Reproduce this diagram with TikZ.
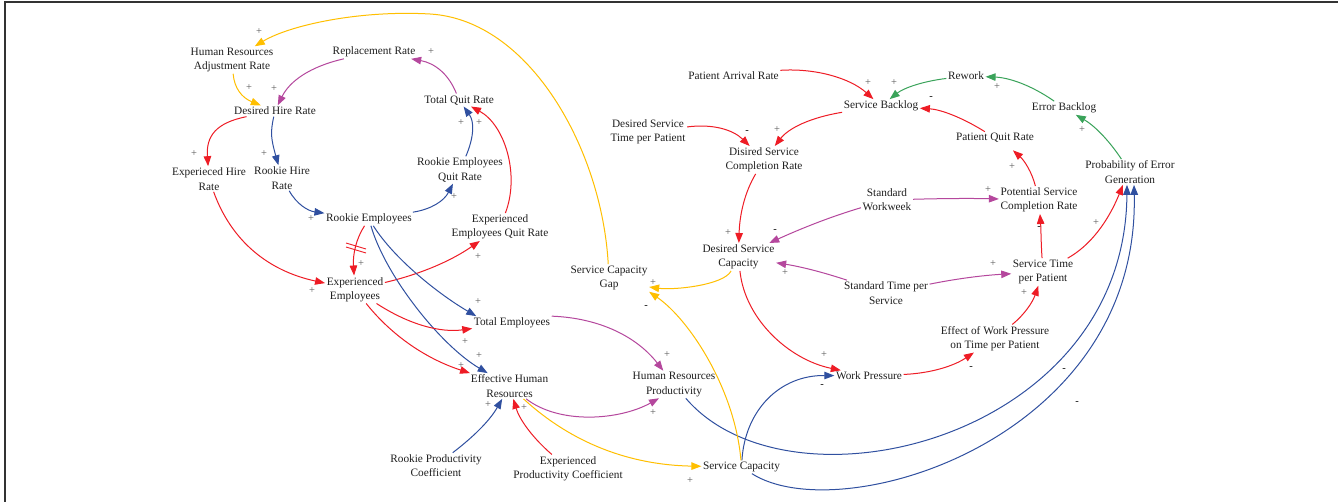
\documentclass[tikz,border=0pt]{standalone}
\usepackage{fontspec}
\setmainfont{Liberation Serif}
\usetikzlibrary{arrows.meta}
\definecolor{cred}{HTML}{EE1C25}
\definecolor{cblue}{HTML}{3050A0}
\definecolor{cmag}{HTML}{B5479D}
\definecolor{cyel}{HTML}{FFBF00}
\definecolor{cgrn}{HTML}{3AA35A}
\begin{document}
\begin{tikzpicture}[x=1pt,y=-1pt,
  v/.style={font=\fontsize{11.3}{14.3}\selectfont, align=center, inner sep=1.5pt, text=black!88},
  lk/.style={-{Triangle[length=10pt,width=7.5pt]}, line width=1pt},
  rl/.style={lk, cred}, bl/.style={lk, cblue}, ml/.style={lk, cmag},
  yl/.style={lk, cyel}, gl/.style={lk, cgrn},
  pl/.style={font=\fontsize{10.5}{11}\selectfont, text=black!65, inner sep=0pt},
  mi/.style={font=\fontsize{10.5}{11}\selectfont, text=black, inner sep=0pt}]
\useasboundingbox (0,0) rectangle (1338,502);
\fill[white] (0,0) rectangle (1338,502);
\draw[line width=1.5pt, black!80] (5,502) -- (5,2) -- (1338,2);

% nodes
\node[v] (hrar) at (232,60) {Human Resources\\Adjustment Rate};
\node[v] (rr) at (374,52) {Replacement Rate};
\node[v] (dhr) at (275,111) {Desired Hire Rate};
\node[v] (tqr) at (459,100) {Total Quit Rate};
\node[v] (ehr) at (209,179) {Experieced Hire\\Rate};
\node[v] (rhr) at (282,178) {Rookie Hire\\Rate};
\node[v] (reqr) at (460,170) {Rookie Employees\\Quit Rate};
\node[v] (re) at (369,219) {Rookie Employees};
\node[v] (eeqr) at (500,227) {Experienced\\Employees Quit Rate};
\node[v] (ee) at (355,289.5) {Experienced\\Employees};
\node[v] (te) at (512,323) {Total Employees};
\node[v] (effhr) at (509.5,386) {Effective Human\\Resources};
\node[v] (hrp) at (674,384.5) {Human Resources\\Productivity};
\node[v] (rpc) at (436,465.5) {Rookie Productivity\\Coefficient};
\node[v] (epc) at (568,468.5) {Experienced\\Productivity Coefficient};
\node[v] (sc) at (741.5,467) {Service Capacity};
\node[v] (scg) at (609,278) {Service Capacity\\Gap};
\node[v] (par) at (733.5,76) {Patient Arrival Rate};
\node[v] (sb) at (881,106) {Service Backlog};
\node[v] (rw) at (966,76) {Rework};
\node[v] (eb) at (1064,108) {Error Backlog};
\node[v] (pqr) at (995,138) {Patient Quit Rate};
\node[v] (dstp) at (648,132) {Desired Service\\Time per Patient};
\node[v] (dscr) at (764,160) {Disired Service\\Completion Rate};
\node[v] (peg) at (1130,172) {Probability of Error\\Generation};
\node[v] (sww) at (887,200) {Standard\\Workweek};
\node[v] (pscr) at (1039,200) {Potential Service\\Completion Rate};
\node[v] (dsc) at (738.5,257) {Desired Service\\Capacity};
\node[v] (stp) at (1043,272) {Service Time\\per Patient};
\node[v] (sts) at (886,293) {Standard Time per\\Service};
\node[v] (ewp) at (995,338.5) {Effect of Work Pressure\\on Time per Patient};
\node[v] (wp) at (869,376) {Work Pressure};

% connectors
\draw[yl] (scg) .. controls (602,150) and (530,20) .. (430,14) .. controls (360,10) and (290,25) .. (hrar);
\draw[yl] (hrar) .. controls (234.3,88.3) and (242,97.8) .. (dhr);
\draw[ml] (rr) .. controls (310,66.5) and (289.6,81.2) .. (dhr);
\draw[ml] (tqr) .. controls (448.7,74.2) and (435,63.2) .. (rr);
\draw[rl] (dhr) .. controls (215.7,122.8) and (206,136.3) .. (ehr);
\draw[bl] (dhr) .. controls (270.2,132.8) and (271,138.7) .. (rhr);
\draw[bl] (rhr) .. controls (296.8,204.3) and (308,211) .. (re);
\draw[bl] (re) .. controls (431.3,209.3) and (444,201) .. (reqr);
\draw[bl] (reqr) .. controls (474.1,137) and (474.5,121.8) .. (tqr);
\draw[rl] (eeqr) .. controls (520,175) and (505,125) .. (tqr);
\draw[rl] (ehr) .. controls (231.5,241.3) and (268.5,271) .. (ee);
\draw[rl] (re) .. controls (356,238.8) and (352.7,254.8) .. (ee);
\draw[cred, line width=0.9pt] (346,243) -- (366,249) (346,247) -- (366,253);
\draw[rl] (ee) .. controls (418.2,274.7) and (449.5,262) .. (eeqr);
\draw[bl] (re) .. controls (395,260) and (440,295) .. ([xshift=4pt]te.north west);
\draw[bl] (re) .. controls (385,275) and (440,345) .. (effhr);
\draw[rl] (ee) .. controls (409.3,324.8) and (440.5,332.9) .. (te);
\draw[rl] (ee) .. controls (392.3,336.2) and (426.7,359) .. (effhr);
\draw[ml] (te.north east) .. controls (600,318) and (637,337) .. (hrp);
\draw[ml] (effhr) .. controls (560,425) and (620,420) .. ([xshift=-15pt]hrp.south);
\draw[yl] (effhr) .. controls (572.3,443.7) and (630.5,465) .. (sc);
\draw[bl] (rpc) .. controls (475.2,435.5) and (490.3,419.7) .. (effhr);
\draw[rl] (epc) .. controls (531.7,437) and (519.3,419) .. (effhr);
\draw[bl] (hrp) .. controls (790,520) and (1125,440) .. ([xshift=-3pt]peg.south);
\draw[bl] (sc) .. controls (840,530) and (1140,440) .. ([xshift=4pt]peg.south);
\draw[bl] (sc) .. controls (745,410) and (780,375) .. (wp);
\draw[yl] (sc) .. controls (735,390) and (690,320) .. (scg.south east);
\draw[yl] (dsc) .. controls (723.5,285.3) and (673.7,290.3) .. ([yshift=-9pt]scg.east);
\draw[rl] (dsc) .. controls (745,320) and (790,360) .. (wp);
\draw[rl] (wp) .. controls (931.7,373.2) and (954,365.8) .. (ewp);
\draw[rl] (ewp) .. controls (1024.5,314.5) and (1032.6,302.3) .. (stp);
\draw[ml] (sts) .. controls (957,278.6) and (983.7,275.3) .. (stp);
\draw[ml] (sts) .. controls (820.3,271.4) and (798.8,266.3) .. (dsc);
\draw[ml] (sww) .. controls (833,216) and (803.8,227.3) .. (dsc);
\draw[ml] (sww) .. controls (945,198.4) and (972.8,198.3) .. (pscr);
\draw[rl] (stp) .. controls (1041,243) and (1041,229) .. (pscr);
\draw[rl] (stp) .. controls (1090,245.7) and (1107.7,222.3) .. ([xshift=-7pt]peg.south);
\draw[rl] (pscr) .. controls (1031.7,171.7) and (1024.3,160.5) .. ([xshift=18pt,yshift=-6pt]pqr.south);
\draw[rl] (pqr) .. controls (961,116.8) and (940,109.4) .. (sb);
\draw[rl] (par.north east) .. controls (815,68) and (850,78) .. (sb);
\draw[gl] (rw) .. controls (921.7,81.5) and (903.5,88.2) .. (sb);
\draw[gl] (eb) .. controls (1031,85) and (1008.8,77.6) .. (rw);
\draw[gl] (peg) .. controls (1108,139) and (1093.7,125.2) .. (eb);
\draw[rl] (sb) .. controls (810.2,117.5) and (788.5,128.3) .. (dscr);
\draw[rl] (dstp) .. controls (712.8,123.6) and (732.9,129.7) .. (dscr);
\draw[rl] (dscr) .. controls (745,191.7) and (739.6,214) .. (dsc);

% polarity signs
\node[pl] (s1) at (259,32) {+};
\node[pl] (s2) at (249,88) {+};
\node[pl] (s3) at (274,89) {+};
\node[pl] (s4) at (431,52) {+};
\node[pl] (s5) at (194,154) {+};
\node[pl] (s6) at (264,154) {+};
\node[pl] (s7) at (311,219) {+};
\node[pl] (s8) at (454,197) {+};
\node[pl] (s9) at (461,123) {+};
\node[pl] (s10) at (479,123) {+};
\node[pl] (s11) at (312,291) {+};
\node[pl] (s12) at (361,264) {+};
\node[pl] (s13) at (478,257) {+};
\node[pl] (s14) at (478,302) {+};
\node[pl] (s15) at (479,356) {+};
\node[pl] (s16) at (465,342) {+};
\node[pl] (s17) at (461,366) {+};
\node[pl] (s18) at (667,355) {+};
\node[pl] (s19) at (653,413) {+};
\node[pl] (s20) at (690,481) {+};
\node[pl] (s21) at (488,405) {+};
\node[pl] (s22) at (524,408) {+};
\node[mi] (s23) at (1064,370) {-};
\node[mi] (s24) at (1077,403) {-};
\node[mi] (s25) at (822,386) {-};
\node[mi] (s26) at (646,307) {-};
\node[pl] (s27) at (653,283) {+};
\node[pl] (s28) at (824,355) {+};
\node[mi] (s29) at (971,368) {-};
\node[pl] (s30) at (1024,293) {+};
\node[pl] (s31) at (993,264) {+};
\node[pl] (s32) at (785,273) {+};
\node[mi] (s33) at (775,231) {-};
\node[pl] (s34) at (988,190) {+};
\node[mi] (s35) at (1039,228) {-};
\node[pl] (s36) at (1096,223) {+};
\node[pl] (s37) at (1012,167) {+};
\node[mi] (s38) at (931,98) {-};
\node[pl] (s39) at (868,83) {+};
\node[pl] (s40) at (894,83) {+};
\node[pl] (s41) at (997,87) {+};
\node[pl] (s42) at (1082,130) {+};
\node[pl] (s43) at (777,130) {+};
\node[mi] (s44) at (747,132) {-};
\node[pl] (s45) at (728,233) {+};
\end{tikzpicture}
\end{document}
